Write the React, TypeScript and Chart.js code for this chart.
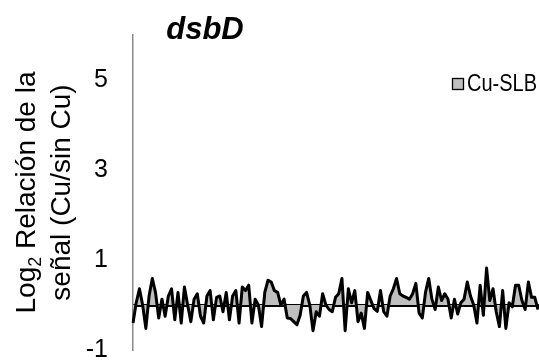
import React, { useEffect, useRef } from 'react';
import { Chart, registerables } from 'chart.js';

Chart.register(...registerables);

const chartTitle = 'dsbD';
const seriesName = 'Cu-SLB';
const yTitleMain = 'Log';
const yTitleSub = '2';
const yTitleRest = ' Relación de la';
const yTitleLine2 = 'señal (Cu/sin Cu)';
const yTickValues = [-1, 1, 3, 5];
const yMin = -1;
const yMax = 6;

const ratioValues = [
  -0.4, 0.05, 0.36, 0, -0.52, 0.2, 0.59, 0.28, -0.29, 0.13, -0.25, 0.2, 0.36, -0.33, 0.28, -0.4,
  0.4, 0, -0.37, 0.13, 0.25, -0.25, -0.4, 0.2, 0.32, -0.33, 0.17, 0.2, -0.15, 0.28, -0.33, 0.2,
  0.32, -0.4, 0.4, 0.32, 0.44, -0.4, 0.13, 0, -0.48, 0.28, 0.55, 0.51, 0.32, 0.28,
  0, 0.13, -0.29, -0.3, -0.37, -0.44, -0.23, 0.2, 0.28, 0, -0.57, -0.15, -0.25, 0.25, 0, -0.1,
  -0.15, 0.17, 0.25, 0.59, -0.57, 0.36, 0.05, 0.32, -0.37, -0.18, -0.52, 0.28, 0.1, -0.08, -0.14,
  0.32, -0.15, -0.25, 0.2, 0.36, 0.59, 0.25, 0.2,
  0.17, 0.13, 0.25, 0.48, -0.18, -0.29, 0.28, 0.59, 0.13, -0.1, 0.4, 0.1, 0.25, 0.13, -0.29, 0.13,
  -0.2, 0.05, 0.13, 0.51, 0.2, 0, -0.4, 0.44, -0.23, 0.82, 0.1, 0.36, -0.15, -0.48, 0.32, -0.52,
  0.05, -0.04, 0.44, 0.44, 0.1, -0.1, 0.51, 0.17, 0.17, -0.1,
];
const probeLabels = ratioValues.map((_, i) => String(i + 1));

const FONT = '"Liberation Sans", Arial, sans-serif';

const decorPlugin = {
  id: 'decor',
  afterDraw(chart: any) {
    const ctx = chart.ctx as CanvasRenderingContext2D;
    const area = chart.chartArea;
    ctx.save();
    // title
    ctx.fillStyle = '#000';
    ctx.font = `italic bold 31px ${FONT}`;
    ctx.textAlign = 'center';
    ctx.textBaseline = 'alphabetic';
    ctx.fillText(chartTitle, 205, 39);

    // y axis title (rotated)
    const cy = (area.top + area.bottom) / 2;
    ctx.textAlign = 'left';
    const bigFont = `28px ${FONT}`;
    const subFont = `18px ${FONT}`;
    ctx.font = bigFont;
    const w1 = ctx.measureText(yTitleMain).width;
    const w3 = ctx.measureText(yTitleRest).width;
    ctx.font = subFont;
    const w2 = ctx.measureText(yTitleSub).width;
    const total = w1 + w2 + w3;
    ctx.save();
    ctx.translate(35, cy);
    ctx.rotate(-Math.PI / 2);
    let x = -total / 2;
    ctx.font = bigFont;
    ctx.fillText(yTitleMain, x, 0);
    x += w1;
    ctx.font = subFont;
    ctx.fillText(yTitleSub, x, 6);
    x += w2;
    ctx.font = bigFont;
    ctx.fillText(yTitleRest, x, 0);
    ctx.restore();

    ctx.save();
    ctx.translate(70, cy);
    ctx.rotate(-Math.PI / 2);
    ctx.font = bigFont;
    ctx.textAlign = 'center';
    ctx.fillText(yTitleLine2, 0, 0);
    ctx.restore();

    // legend
    ctx.fillStyle = '#bfbfbf';
    ctx.fillRect(452.5, 78.5, 11, 11);
    ctx.strokeStyle = '#000';
    ctx.lineWidth = 1.3;
    ctx.strokeRect(452.5, 78.5, 11, 11);
    ctx.fillStyle = '#000';
    ctx.font = `23px ${FONT}`;
    ctx.textAlign = 'left';
    ctx.textBaseline = 'middle';
    const tw = ctx.measureText(seriesName).width;
    const sx = 70 / tw;
    ctx.save();
    ctx.translate(467, 85);
    ctx.scale(sx, 1);
    ctx.fillText(seriesName, 0, 0);
    ctx.restore();
    ctx.restore();
  },
};

export default function App() {
  const ref = useRef<HTMLCanvasElement | null>(null);
  useEffect(() => {
    if (!ref.current) return;
    const chart = new Chart(ref.current, {
      type: 'line',
      data: {
        labels: probeLabels,
        datasets: [
          {
            label: seriesName,
            data: ratioValues,
            borderColor: '#000',
            backgroundColor: '#bfbfbf',
            borderWidth: 3,
            borderJoinStyle: 'round',
            fill: 'origin',
            pointRadius: 0,
            tension: 0,
          },
        ],
      },
      options: {
        animation: false,
        responsive: false,
        maintainAspectRatio: false,
        layout: { padding: { left: 0, top: 35, right: 1, bottom: 10 } },
        plugins: { legend: { display: false }, title: { display: false }, tooltip: { enabled: false } },
        scales: {
          x: {
            type: 'category',
            position: { y: 0 } as any,
            offset: false,
            z: 1,
            ticks: { display: false },
            grid: { display: false, drawTicks: false },
            border: { display: true, color: '#000', width: 3 },
          },
          y: {
            type: 'linear',
            min: yMin,
            max: yMax,
            afterBuildTicks(scale: any) {
              scale.ticks = yTickValues.map((v) => ({ value: v }));
            },
            afterFit(scale: any) {
              scale.width = 133;
              scale.paddingTop = 0;
              scale.paddingBottom = 0;
            },
            ticks: {
              padding: 25,
              color: '#000',
              font: { family: FONT, size: 25 },
            },
            grid: { display: false, drawTicks: false },
            border: { display: true, color: '#898989', width: 1.5 },
          },
        },
      },
      plugins: [decorPlugin],
    });
    return () => chart.destroy();
  }, []);
  return (
    <div style={{ position: 'absolute', left: 0, top: 0, width: 539, height: 360, background: '#fff' }}>
      <canvas ref={ref} width={539} height={360} style={{ display: 'block', width: 539, height: 360 }} />
    </div>
  );
}
